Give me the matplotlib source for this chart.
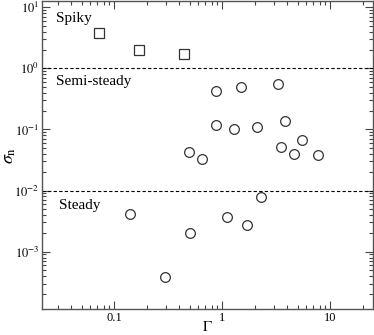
"""
Sigma_n against Gamma, with spiky / semi-steady / steady regimes
"""
import matplotlib
matplotlib.use("Agg")
import matplotlib.pyplot as plt
from matplotlib.ticker import LogLocator, FixedLocator, NullFormatter

plt.rcParams['font.family'] = ['Liberation Serif', 'DejaVu Serif']
plt.rcParams['mathtext.fontset'] = 'stix'

## Spiky regime (squares)
spiky_gamma = [0.073, 0.17, 0.448]
spiky_sigma = [3.75, 2.0, 1.71]

## Semi-steady and steady regimes (circles)
circ_gamma = [0.885, 1.49, 3.27, 0.885, 1.30, 2.09, 3.8, 5.54, 3.49, 4.6, 7.67,
              0.49, 0.647, 0.139, 0.508, 0.299, 1.10, 1.71, 2.28]
circ_sigma = [0.43, 0.50, 0.553, 0.119, 0.100, 0.110, 0.138, 0.0668, 0.0519,
              0.0398, 0.0379, 0.043, 0.033, 0.00413, 0.0020, 0.000384,
              0.00365, 0.00277, 0.00785]

thresholds = [1.0, 0.01]
regime_labels = ["Spiky", "Semi-steady", "Steady"]
regime_label_y = [6.5, 0.6, 0.0058]

fig = plt.figure(figsize=(3.74, 3.35), dpi=100)
ax = fig.add_axes([42/374, 1 - 309/335, (373-42)/374, (309-1)/335])

ax.plot(spiky_gamma, spiky_sigma, 's', ms=6.5, mfc='none', mec='#333333', mew=0.9)
ax.plot(circ_gamma, circ_sigma, 'o', ms=7, mfc='none', mec='#333333', mew=0.9)

for t in thresholds:
    ax.axhline(t, color='black', lw=0.8, ls=(0, (3, 2)))

ax.text(0.029, regime_label_y[0], regime_labels[0], fontsize=11, va='center')
ax.text(0.029, regime_label_y[1], regime_labels[1], fontsize=11, va='center')
ax.text(0.031, regime_label_y[2], regime_labels[2], fontsize=11, va='center')

ax.set_xscale('log')
ax.set_yscale('log')
ax.set_xlim(0.0215, 25)
ax.set_ylim(1.15e-4, 12.7)

ax.xaxis.set_major_locator(FixedLocator([0.1, 1, 10]))
ax.set_xticklabels(["0.1", "1", "10"])
ax.xaxis.set_minor_locator(LogLocator(base=10, subs=range(2, 10), numticks=20))
ax.xaxis.set_minor_formatter(NullFormatter())
ax.yaxis.set_major_locator(FixedLocator([1e-3, 1e-2, 1e-1, 1, 10]))
ax.set_yticklabels([r"$10^{-3}$", r"$10^{-2}$", r"$10^{-1}$", r"$10^{0}$", r"$10^{1}$"])
ax.yaxis.set_minor_locator(LogLocator(base=10, subs=range(2, 10), numticks=20))
ax.yaxis.set_minor_formatter(NullFormatter())

ax.tick_params(which='both', direction='in', top=True, right=True, labelsize=9,
               color='#444444', pad=2)
ax.tick_params(which='major', length=6, width=0.8)
ax.tick_params(which='minor', length=3, width=0.8)
for s in ax.spines.values():
    s.set_color('#555555')
    s.set_linewidth(1.0)

ax.set_xlabel(r"$\Gamma$", fontsize=11, va='center')
ax.set_ylabel(r"$\sigma_{\rm n}$", fontsize=13, va='center')
ax.xaxis.set_label_coords(0.5, -0.06)
ax.yaxis.set_label_coords(-0.097, 0.5)

fig.savefig("out.png", dpi=100)
